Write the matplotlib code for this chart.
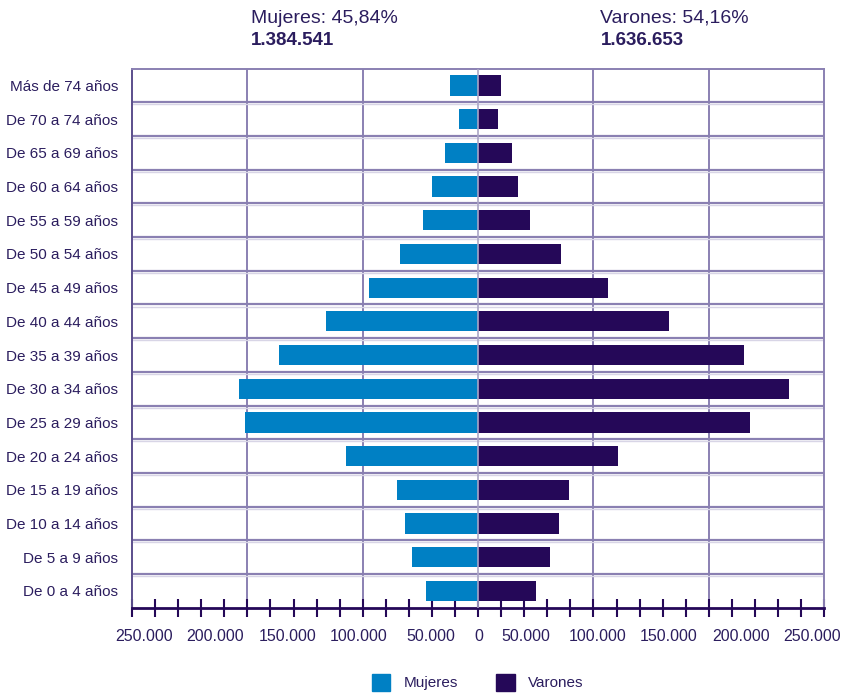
import numpy as np
import matplotlib
matplotlib.use("Agg")
import matplotlib.pyplot as plt
from matplotlib.patches import Patch

plt.rcParams['font.family'] = ['Liberation Sans', 'DejaVu Sans']

# grupos de edad, de abajo hacia arriba
grupos = ["De 0 a 4 años", "De 5 a 9 años", "De 10 a 14 años", "De 15 a 19 años",
          "De 20 a 24 años", "De 25 a 29 años", "De 30 a 34 años", "De 35 a 39 años",
          "De 40 a 44 años", "De 45 a 49 años", "De 50 a 54 años", "De 55 a 59 años",
          "De 60 a 64 años", "De 65 a 69 años", "De 70 a 74 años", "Más de 74 años"]
mujeres = [44900, 57000, 63100, 70000, 114900, 202200, 207400, 172800,
           132200, 94200, 67400, 47500, 39700, 28500, 16400, 24200]
varones = [50100, 62200, 70000, 78600, 121000, 235900, 269600, 230700,
           165900, 112300, 71700, 44900, 34600, 29400, 17300, 19900]
etiquetas_x = ["250.000", "200.000", "150.000", "100.000", "50.000", "0",
               "50.000", "100.000", "150.000", "200.000", "250.000"]

col_muj = "#0080c4"
col_var = "#250858"
col_txt = "#2b1d5e"
col_grid = "#8a80b2"

fig = plt.figure(figsize=(8.41, 6.93), dpi=100)
ax = fig.add_axes([0.157, 0.123, 0.823, 0.778])

y = np.arange(len(grupos))
ax.barh(y, [-m for m in mujeres], height=0.6, color=col_muj, zorder=3)
ax.barh(y, varones, height=0.6, color=col_var, zorder=3)

ax.set_xlim(-300000, 300000)
ax.set_ylim(-0.5, len(grupos) - 0.5)

# rejilla
for xv in [-200000, -100000, 100000, 200000]:
    ax.axvline(xv, color=col_grid, lw=1.4, zorder=1)
ax.axvline(0, color="#aaa5c6", lw=1.2, zorder=4)
for yv in np.arange(0.5, len(grupos) - 0.5, 1):
    ax.axhline(yv, color=col_grid, lw=1.6, zorder=1)
    ax.axhline(yv - 0.06, color="#d8d5e6", lw=1.0, zorder=1)

for s in ["top", "right"]:
    ax.spines[s].set_color(col_grid)
    ax.spines[s].set_linewidth(1.4)
ax.spines["left"].set_color("#5b4e8c")
ax.spines["left"].set_linewidth(1.4)
ax.spines["bottom"].set_color(col_var)
ax.spines["bottom"].set_linewidth(2)

ax.set_yticks(y)
ax.set_yticklabels(grupos, fontsize=11, color=col_txt)
ax.tick_params(axis="y", length=0, pad=10)

pos = np.array([41000 + 62200 * k for k in range(5)])
ax.set_xticks(list(-pos[::-1]) + [1000] + list(pos))
ax.set_xticklabels(etiquetas_x, fontsize=11.5, color=col_txt)
ax.set_xticks(np.arange(-300000, 300001, 20000), minor=True)
ax.tick_params(axis="x", which="major", length=0, pad=15)
ax.tick_params(axis="x", which="minor", direction="inout", length=13, width=1.5, color=col_var)

fig.text(0.298, 0.974, "Mujeres: 45,84%", fontsize=14, color=col_txt, va="center")
fig.text(0.298, 0.941, "1.384.541", fontsize=13.5, color=col_txt, va="center", fontweight="bold")
fig.text(0.714, 0.974, "Varones: 54,16%", fontsize=14, color=col_txt, va="center")
fig.text(0.714, 0.941, "1.636.653", fontsize=13.5, color=col_txt, va="center", fontweight="bold")

handles = [Patch(color=col_muj, label="Mujeres"), Patch(color=col_var, label="Varones")]
leg = fig.legend(handles=handles, loc="center", bbox_to_anchor=(0.568, 0.0155), ncol=2,
                 frameon=False, fontsize=11, handlelength=1.2, handleheight=1.3,
                 columnspacing=2.5, handletextpad=0.9)
for t in leg.get_texts():
    t.set_color(col_txt)

fig.savefig("out.png", dpi=100)
